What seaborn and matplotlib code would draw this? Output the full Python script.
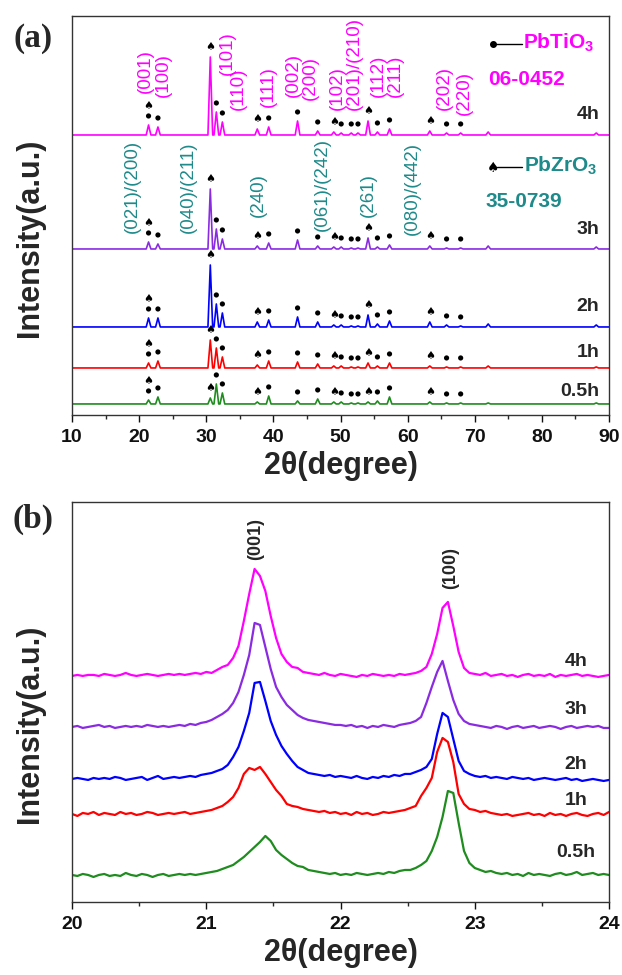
import numpy as np
import pandas as pd
import matplotlib
matplotlib.use("Agg")
import matplotlib.pyplot as plt
from matplotlib.ticker import MultipleLocator
import seaborn as sns

# ---------------- data ----------------
samples = ["0.5h", "1h", "2h", "3h", "4h"]
colors = ["#1E8C1E", "#FF0000", "#0000FF", "#8A2BE2", "#FF00FF"]

# panel (a): reflections and peak heights (px above baseline)
a_offsets = [11, 47, 88, 166, 280]
a_peak_pos = [21.4, 22.8, 30.6, 31.5, 32.4, 37.6, 39.3, 43.6, 46.6, 49.0, 50.1,
              51.6, 52.6, 54.1, 55.5, 57.3, 63.3, 65.8, 67.9, 72.0, 88.1]
a_h_05 = [4, 7, 6, 20, 11, 2, 8, 3, 5, 2, 2, 1, 1, 2, 3, 7, 2, 1, 1, 1, 1]
a_h_1 = [5, 7, 28, 20, 11, 3, 7, 6, 4, 2, 2, 1, 1, 5, 2, 5, 2, 1, 1, 2, 1]
a_h_2 = [9, 9, 62, 23, 14, 5, 7, 10, 5, 2, 2, 1, 1, 12, 3, 6, 5, 2, 1, 3, 2]
a_h_3 = [7, 5, 60, 20, 10, 3, 6, 9, 3, 2, 2, 1, 1, 11, 2, 4, 3, 1, 1, 3, 2]
a_h_4 = [10, 8, 78, 23, 13, 6, 8, 14, 4, 3, 2, 2, 2, 14, 3, 6, 4, 2, 2, 3, 2]
a_heights = [a_h_05, a_h_1, a_h_2, a_h_3, a_h_4]

# phase markers (same reflections flagged on every pattern)
pt_dot_pos = [21.4, 22.8, 31.5, 32.4, 39.3, 43.6, 46.6, 50.1, 51.6, 52.6, 55.5,
              57.3, 65.8, 67.9]
pz_spade_pos = [21.4, 30.6, 37.6, 49.0, 54.1, 63.3]

# hkl labels: (text, 2theta, bottom y)
pt_hkl = [("(001)", 21.0, 322), ("(100)", 23.6, 318), ("(101)", 33.1, 340),
          ("(110)", 34.8, 305), ("(111)", 39.3, 308), ("(002)", 43.0, 318),
          ("(200)", 45.5, 315), ("(102)", 49.5, 305), ("(201)/(210)", 52.0, 305),
          ("(112)", 55.7, 318), ("(211)", 58.2, 318), ("(202)", 65.4, 305),
          ("(220)", 68.4, 300)]
pz_hkl = [("(021)/(200)", 19.0, 182), ("(040)/(211)", 27.3, 182), ("(240)", 37.8, 198),
          ("(061)/(242)", 47.3, 184), ("(261)", 54.2, 198), ("(080)/(442)", 60.7, 180)]

a_label_y = [23, 62, 108, 185, 300]

# panel (b): zoomed 20-24 deg, intensities sampled every 0.04 deg
b_offsets = [27, 88, 123, 175, 226]
b_05 = [0, -1, 1, 0, -2, 0, 1, -1, 0, -1, 2, 0, -1, 1, 0, -2, 0, 1, -1, 0, 1, 0, 1, 0, 1, 2,
        3, 4, 6, 8, 10, 14, 18, 23, 28, 33, 39, 34, 25, 20, 16, 12, 9, 8, 5, 4, 3, 2, 1, 2, 0,
        1, 0, 2, 1, 0, 1, 2, 1, 3, 2, 4, 5,
        5, 7, 10, 14, 24, 38, 58, 84, 82, 52, 24, 12, 7,
        5, 3, 4, 2, 1, 2, 0, 1, -1, 2, 0, 1, 0, -1, 1, 2, 0, 1, 3, 0, 1, 2, 0, 1, 0]
b_1 = [0, -2, 1, 0, 2, -1, 1, 0, -1, 2, 0, 1, -1, 0, 2, 1, -1, 0, 1, 0, 1, 2, 0, 1, 2, 3,
       4, 6, 8, 12, 17, 26, 40, 46, 44, 47, 40, 32, 24, 18, 10, 8, 7, 5, 4, 3, 2, 3, 1, 2, 0,
       1, -1, 2, 0, 1, -1, 0, 2, 1, 2, 3, 4,
       6, 8, 18, 26, 36, 62, 76, 72, 52, 20, 10, 5, 4,
       2, 3, 1, 0, -1, 0, -2, -1, 0, 1, -1, 0, -2, 1, -1, 0, -2, 0, 1, -1, -2, 0, 1, -1, 2]
b_2 = [0, 1, 0, -1, 1, 0, 1, 0, 2, 1, -1, 0, 1, 2, -1, 1, 3, 0, 1, 2, 1, 2, 3, 2, 4, 5,
       6, 8, 10, 14, 22, 32, 48, 66, 96, 97, 78, 58, 44, 33, 25, 18, 12, 9, 6, 5, 4, 3, 4, 2, 3,
       2, 1, 3, 1, 0, 2, 1, 3, 2, 4, 3, 5,
       5, 7, 9, 12, 20, 45, 66, 62, 40, 18, 8, 5, 3,
       2, 3, 1, 2, 1, 0, 2, 1, 0, 1, -1, 0, 1, 0, -1, 0, 1, -1, 0, -2, -1, 0, -1, -2, -1]
b_3 = [0, 1, -1, 0, 1, 2, 0, 1, -1, 0, 1, 0, 1, 0, 2, 1, 0, 1, 0, 1, 2, 1, 3, 2, 4, 5,
       7, 10, 13, 17, 24, 35, 52, 72, 104, 102, 80, 58, 40, 30, 22, 17, 12, 9, 7, 6, 5, 4, 3, 2, 2,
       1, 2, 0, 1, -1, 1, 0, 2, 1, 0, 2, 3,
       4, 6, 10, 24, 40, 55, 66, 46, 27, 13, 6, 3, 2,
       1, 0, -1, 1, 0, -2, 0, 1, -1, 0, 1, -1, 0, 1, 0, -2, 0, 1, -1, 0, 1, 0, 1, -1, -1]
b_4 = [0, 1, 0, 1, 1, 0, 2, 1, 0, 1, 3, 1, 0, 1, 2, 1, 0, 1, 2, 1, 2, 1, 2, 3, 2, 4,
       3, 6, 9, 11, 18, 30, 55, 82, 107, 100, 85, 60, 38, 22, 14, 9, 8, 4, 3, 2, 1, 3, 1, 0, 2,
       1, 0, -1, 1, 0, 2, 1, 0, 1, 0, 2, 1,
       2, 3, 5, 9, 22, 42, 68, 74, 50, 24, 8, 3, 2,
       1, 3, 0, 1, 2, 0, 1, -1, 1, 2, 0, 1, 0, 2, -1, 1, 0, 1, 2, 0, 1, 0, -1, 0, 1]
b_curves = [b_05, b_1, b_2, b_3, b_4]
b_label_pos = [(23.61, 49), (23.67, 101), (23.67, 137), (23.67, 192), (23.67, 240)]

# ---------------- style ----------------
sns.set_style("ticks")
plt.rcParams["font.family"] = ["Liberation Sans", "DejaVu Sans"]
plt.rcParams["font.weight"] = "bold"
plt.rcParams["mathtext.fontset"] = "custom"
plt.rcParams["mathtext.rm"] = "Liberation Sans"
plt.rcParams["mathtext.bf"] = "Liberation Sans:bold"

teal = "#1E8A8A"
fig = plt.figure(figsize=(6.22, 9.75), dpi=100)
ax_a = fig.add_axes([0.1158, 0.5744, 0.8633, 0.4092])
ax_b = fig.add_axes([0.1158, 0.0749, 0.8633, 0.4103])


def style_axis(ax):
    for sp in ax.spines.values():
        sp.set_visible(True)
        sp.set_linewidth(1.0)
        sp.set_color("#333333")
    ax.set_yticks([])
    ax.tick_params(axis="x", which="major", direction="out", length=5, width=1,
                   labelsize=14, pad=5, colors="#111111")
    ax.tick_params(axis="x", which="minor", direction="out", length=3, width=1)
    for lab in ax.get_xticklabels():
        lab.set_fontweight("bold")
    ax.set_xlabel("2θ(degree)", fontsize=22, fontweight="bold", labelpad=4)
    ax.set_ylabel("Intensity(a.u.)", fontsize=22, fontweight="bold")
    ax.yaxis.set_label_coords(-0.05, 0.445)


# ---------------- panel (a) ----------------
rows = []
for name, off, hts in zip(samples, a_offsets, a_heights):
    xs, ys = [10.0], [0.0]
    for p, h in zip(a_peak_pos, hts):
        xs += [p - 0.35, p, p + 0.35]
        ys += [0, h, 0]
    xs.append(90.0)
    ys.append(0.0)
    for x, y in zip(xs, ys):
        rows.append((name, x, y + off))
df_a = pd.DataFrame(rows, columns=["sample", "theta", "intensity"])

for name, col in zip(samples, colors):
    sub = df_a[df_a["sample"] == name]
    sns.lineplot(x=sub["theta"], y=sub["intensity"], color=col, lw=1.2,
                 sort=False, ax=ax_a, estimator=None)

# phase markers
for off, hts in zip(a_offsets, a_heights):
    dot_y = {}
    dx, dy = [], []
    for p in pt_dot_pos:
        h = hts[a_peak_pos.index(p)]
        dot_y[p] = off + h + 9
        dx.append(p)
        dy.append(dot_y[p])
    sns.scatterplot(x=dx, y=dy, color="black", s=14, edgecolor="none", ax=ax_a)
    for p in pz_spade_pos:
        h = hts[a_peak_pos.index(p)]
        y = dot_y[p] + 10 if p in dot_y else off + h + 10
        ax_a.text(p, y, "♠", ha="center", va="center", fontsize=8, color="black",
                  family=["DejaVu Sans"])

for txt, x, y in pt_hkl:
    ax_a.text(x, y, txt, rotation=90, ha="center", va="bottom", color="#FF00FF",
              fontsize=13.5, fontweight="normal")
for txt, x, y in pz_hkl:
    ax_a.text(x, y, txt, rotation=90, ha="center", va="bottom", color=teal,
              fontsize=13.5, fontweight="normal")

for name, y in zip(samples, a_label_y):
    ax_a.text(88.6, y, name, ha="right", va="center", fontsize=14, fontweight="bold")

# phase legend
ax_a.scatter([72.7], [371], color="black", s=16, zorder=3)
ax_a.plot([73.2, 77.0], [371, 371], color="black", lw=1.0)
ax_a.text(77.2, 372, r"PbTiO$_{\mathbf{3}}$", color="#FF00FF", fontsize=15,
          fontweight="bold", ha="left", va="center")
ax_a.text(72.0, 335, "06-0452", color="#FF00FF", fontsize=15, fontweight="bold",
          ha="left", va="center")
ax_a.text(72.7, 247, "♠", color="black", fontsize=10, ha="center", va="center",
          family=["DejaVu Sans"])
ax_a.plot([73.3, 77.1], [248, 248], color="black", lw=1.0)
ax_a.text(77.3, 249, r"PbZrO$_{\mathbf{3}}$", color=teal, fontsize=15,
          fontweight="bold", ha="left", va="center")
ax_a.text(71.6, 213, "35-0739", color=teal, fontsize=15, fontweight="bold",
          ha="left", va="center")

ax_a.set_xlim(10, 90)
ax_a.set_ylim(0, 399)
ax_a.xaxis.set_major_locator(MultipleLocator(10))
ax_a.xaxis.set_minor_locator(MultipleLocator(5))
style_axis(ax_a)

# ---------------- panel (b) ----------------
bx = np.linspace(20, 24, 101)
for name, col, off, ys in zip(samples, colors, b_offsets, b_curves):
    sns.lineplot(x=bx, y=np.array(ys) + off, color=col, lw=1.6, ax=ax_b, estimator=None)

ax_b.text(21.37, 342, "(001)", rotation=90, ha="center", va="bottom", fontsize=13,
          fontweight="bold")
ax_b.text(22.82, 313, "(100)", rotation=90, ha="center", va="bottom", fontsize=13,
          fontweight="bold")
for name, (x, y) in zip(samples, b_label_pos):
    ax_b.text(x, y, name, ha="left", va="center", fontsize=14, fontweight="bold")

ax_b.set_xlim(20, 24)
ax_b.set_ylim(0, 400)
ax_b.xaxis.set_major_locator(MultipleLocator(1))
ax_b.xaxis.set_minor_locator(MultipleLocator(0.5))
style_axis(ax_b)

# panel letters
fig.text(0.053, 0.960, "(a)", fontsize=24, fontweight="bold", family="Liberation Serif",
         ha="center", va="center")
fig.text(0.053, 0.467, "(b)", fontsize=24, fontweight="bold", family="Liberation Serif",
         ha="center", va="center")

fig.savefig("out.png", dpi=100)
